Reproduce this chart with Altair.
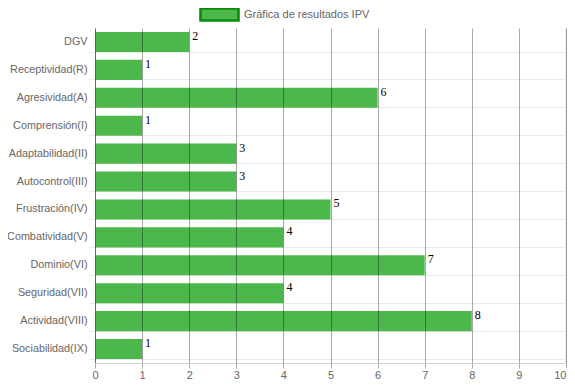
import altair as alt
import pandas as pd

categorias = ["DGV", "Receptividad(R)", "Agresividad(A)", "Comprensión(I)", "Adaptabilidad(II)",
              "Autocontrol(III)", "Frustración(IV)", "Combatividad(V)", "Dominio(VI)",
              "Seguridad(VII)", "Actividad(VIII)", "Sociabilidad(IX)"]
valores = [2, 1, 6, 1, 3, 3, 5, 4, 7, 4, 8, 1]
serie = "Gráfica de resultados IPV"

df = pd.DataFrame({"cat": categorias, "val": valores, "serie": [serie] * len(valores)})

font = "Arial, Liberation Sans, Helvetica, sans-serif"

y_enc = alt.Y("cat:N", sort=categorias, title=None,
              scale=alt.Scale(paddingInner=0.28, paddingOuter=0.14),
              axis=alt.Axis(bandPosition=1, grid=True, gridColor="#ebebeb", tickColor="#ebebeb",
                            tickSize=7, labelPadding=1, domainColor="#a0a0a0",
                            labelColor="#666666", labelFont=font, labelFontSize=10.8))
x_enc = alt.X("val:Q", title=None, scale=alt.Scale(domain=[0, 10], nice=False),
              axis=alt.Axis(values=list(range(11)), grid=True, gridColor="#000000",
                            gridOpacity=0.34, tickColor="#a8a8a8", tickSize=5, labelPadding=1,
                            domainColor="#d0d0d0", labelColor="#666666", zindex=1,
                            labelAlign=alt.expr("datum.value == 10 ? 'right' : 'center'"),
                            labelFont=font, labelFontSize=11))

bars = alt.Chart(df).mark_bar().encode(
    x=x_enc, y=y_enc,
    color=alt.Color("serie:N", scale=alt.Scale(range=["#4cb84c"]),
                    legend=alt.Legend(title=None, orient="none", legendX=117, legendY=-21,
                                      symbolType="M-3.17,-1H3.17V1H-3.17Z", symbolSize=144,
                                      symbolStrokeWidth=2.5, symbolStrokeColor="#0a8a0a",
                                      labelFont=font, labelFontSize=11, labelColor="#666666",
                                      padding=0, labelOffset=17))
)

text = alt.Chart(df).mark_text(align="left", baseline="middle", dx=3, dy=-6,
                               font="Times New Roman, Liberation Serif, serif",
                               fontSize=12, color="#000000").encode(
    x="val:Q", y=alt.Y("cat:N", sort=categorias), text="val:Q"
)

right_edge = alt.Chart(df).mark_rule(color="#ebebeb").encode(x=alt.datum(10))

chart = alt.layer(right_edge, bars, text).properties(
    width=471, height=335,
    autosize=alt.AutoSizeParams(type="none"),
    padding={"left": 87, "top": 20, "right": 1, "bottom": 16},
).configure_view(stroke=None)

chart.save("out.html", embed_options={"renderer": "svg", "actions": False})
